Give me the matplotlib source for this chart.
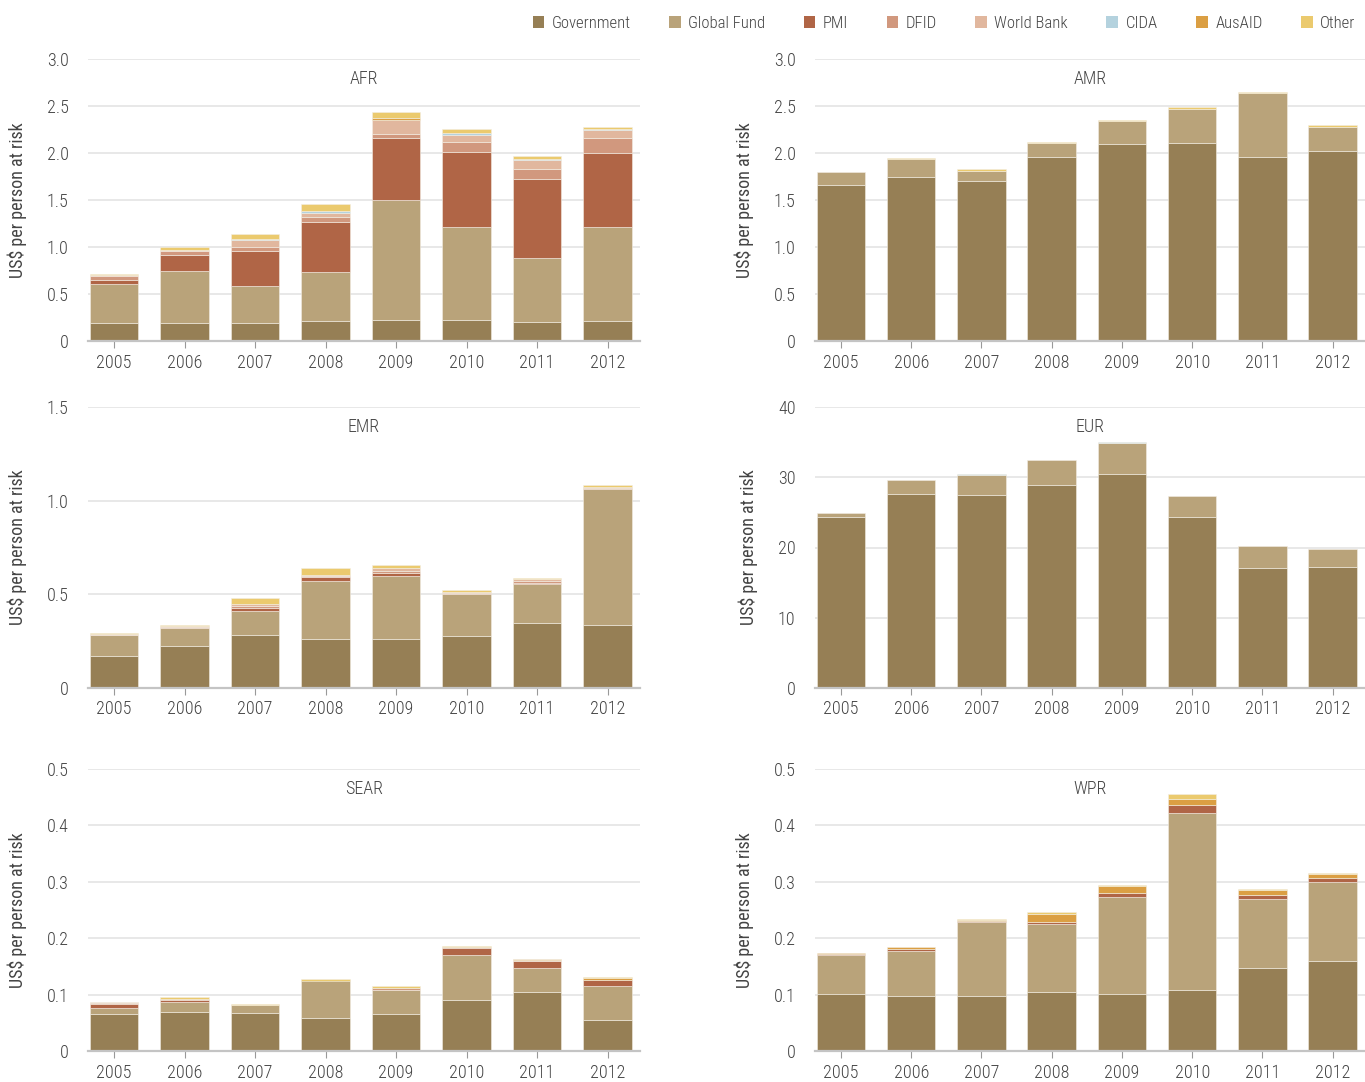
import numpy as np
import matplotlib
matplotlib.use("Agg")
import matplotlib.pyplot as plt
from matplotlib.patches import Patch

plt.rcParams['font.family'] = ['Roboto Condensed', 'Liberation Sans Narrow', 'DejaVu Sans']
plt.rcParams['font.weight'] = 'light'

years = ['2005', '2006', '2007', '2008', '2009', '2010', '2011', '2012']
sources = ['Government', 'Global Fund', 'PMI', 'DFID', 'World Bank', 'CIDA', 'AusAID', 'Other']
colors = ['#967F55', '#B9A37A', '#B06546', '#D1987E', '#E1B79E', '#B4D2DE', '#DB9F43', '#EBCA6E']

# rows follow `sources`, columns follow `years`
afr = [[0.19, 0.19, 0.19, 0.21, 0.22, 0.22, 0.20, 0.21],
       [0.42, 0.555, 0.395, 0.524, 1.28, 0.99, 0.68, 1.0],
       [0.04, 0.165, 0.37, 0.536, 0.66, 0.80, 0.84, 0.79],
       [0.04, 0.05, 0.05, 0.05, 0.04, 0.105, 0.115, 0.155],
       [0.01, 0.01, 0.065, 0.045, 0.15, 0.075, 0.09, 0.085],
       [0, 0, 0.013, 0.015, 0, 0.02, 0.015, 0.015],
       [0, 0, 0.005, 0, 0.02, 0, 0, 0.005],
       [0.01, 0.025, 0.045, 0.075, 0.07, 0.045, 0.025, 0.02]]

amr = [[1.656, 1.741, 1.702, 1.961, 2.099, 2.11, 1.961, 2.025],
       [0.142, 0.192, 0.11, 0.142, 0.238, 0.361, 0.674, 0.255],
       [0, 0, 0, 0, 0, 0, 0, 0],
       [0, 0, 0, 0, 0, 0, 0, 0],
       [0, 0, 0, 0, 0, 0, 0, 0],
       [0, 0, 0, 0, 0, 0, 0, 0],
       [0, 0, 0, 0, 0, 0, 0, 0],
       [0, 0.01, 0.014, 0.014, 0.014, 0.015, 0.01, 0.014]]

emr = [[0.172, 0.222, 0.285, 0.263, 0.263, 0.279, 0.345, 0.335],
       [0.109, 0.1, 0.126, 0.307, 0.335, 0.224, 0.212, 0.727],
       [0, 0, 0.018, 0.021, 0.014, 0, 0.005, 0],
       [0.003, 0.005, 0.009, 0.009, 0.011, 0.006, 0.01, 0.005],
       [0.002, 0.003, 0.009, 0.005, 0.016, 0.004, 0.008, 0.008],
       [0, 0, 0, 0, 0, 0, 0, 0],
       [0, 0, 0, 0, 0, 0, 0, 0],
       [0.006, 0.005, 0.032, 0.035, 0.018, 0.009, 0.007, 0.007]]

eur = [[24.4, 27.66, 27.47, 28.94, 30.5, 24.4, 17.1, 17.2],
       [0.5, 1.94, 2.83, 3.56, 4.4, 2.9, 3.1, 2.6],
       [0, 0, 0, 0, 0, 0, 0, 0],
       [0, 0, 0, 0, 0, 0, 0, 0],
       [0, 0, 0, 0, 0, 0, 0, 0],
       [0, 0, 0.2, 0, 0.16, 0, 0, 0],
       [0, 0, 0, 0, 0, 0, 0, 0],
       [0, 0, 0, 0, 0, 0, 0, 0]]

sear = [[0.066, 0.070, 0.067, 0.059, 0.066, 0.091, 0.105, 0.0555],
        [0.010, 0.017, 0.014, 0.066, 0.042, 0.080, 0.043, 0.059],
        [0.007, 0.003, 0, 0, 0, 0.011, 0.011, 0.012],
        [0.002, 0.002, 0, 0, 0.003, 0.003, 0, 0],
        [0.001, 0, 0, 0, 0, 0, 0.002, 0],
        [0, 0, 0, 0, 0, 0, 0, 0],
        [0, 0, 0, 0, 0, 0, 0.002, 0.003],
        [0.001, 0.003, 0.002, 0.002, 0.004, 0.002, 0.001, 0.001]]

wpr = [[0.101, 0.098, 0.098, 0.105, 0.101, 0.109, 0.148, 0.160],
       [0.070, 0.080, 0.131, 0.120, 0.172, 0.313, 0.122, 0.140],
       [0.001, 0.003, 0.002, 0.004, 0.008, 0.015, 0.006, 0.006],
       [0, 0, 0, 0, 0, 0, 0, 0],
       [0, 0, 0, 0, 0, 0, 0.001, 0],
       [0, 0, 0, 0, 0, 0, 0, 0],
       [0.002, 0.003, 0.002, 0.014, 0.011, 0.010, 0.009, 0.007],
       [0, 0, 0.001, 0.003, 0.002, 0.008, 0.002, 0.003]]

panels = [('AFR', afr, [0, 0.5, 1.0, 1.5, 2.0, 2.5, 3.0], ['0', '0.5', '1.0', '1.5', '2.0', '2.5', '3.0']),
          ('AMR', amr, [0, 0.5, 1.0, 1.5, 2.0, 2.5, 3.0], ['0', '0.5', '1.0', '1.5', '2.0', '2.5', '3.0']),
          ('EMR', emr, [0, 0.5, 1.0, 1.5], ['0', '0.5', '1.0', '1.5']),
          ('EUR', eur, [0, 10, 20, 30, 40], ['0', '10', '20', '30', '40']),
          ('SEAR', sear, [0, 0.1, 0.2, 0.3, 0.4, 0.5], ['0', '0.1', '0.2', '0.3', '0.4', '0.5']),
          ('WPR', wpr, [0, 0.1, 0.2, 0.3, 0.4, 0.5], ['0', '0.1', '0.2', '0.3', '0.4', '0.5'])]

W, H = 1365, 1082
fig = plt.figure(figsize=(W / 100, H / 100), dpi=100)

lefts = [88, 815]
widths = [552, 550]
rows = [(59, 341), (407, 688), (769, 1051)]
txt = '#444444'

for i, (name, data, ticks, labels) in enumerate(panels):
    col, row = i % 2, i // 2
    top, bot = rows[row]
    ax = fig.add_axes([lefts[col] / W, 1 - bot / H, widths[col] / W, (bot - top) / H])
    x = np.arange(len(years))
    base = np.zeros(len(years))
    for s in range(len(sources)):
        vals = np.array(data[s], dtype=float)
        keep = vals > 0
        if keep.any():
            ax.bar(x[keep], vals[keep], 0.69, bottom=base[keep], color=colors[s],
                   edgecolor='#f3eee4', linewidth=0.4, zorder=3)
        base += vals
    ax.set_xlim(-0.37, 7.46)
    ax.set_ylim(ticks[0], ticks[-1])
    ax.set_yticks(ticks)
    ax.set_yticklabels(labels)
    ax.set_xticks(x)
    ax.set_xticklabels(years)
    ax.grid(axis='y', color='#e4e4e4', linewidth=1.2, zorder=0)
    for sp in ['top', 'right', 'left']:
        ax.spines[sp].set_visible(False)
    ax.spines['bottom'].set_color('#c4c4c4')
    ax.spines['bottom'].set_linewidth(1.6)
    ax.spines['bottom'].set_zorder(4)
    ax.tick_params(axis='y', length=0, pad=14, labelsize=13, labelcolor=txt)
    ax.tick_params(axis='x', length=5, color='#999999', pad=4, labelsize=13, labelcolor=txt)
    ax.set_ylabel('US$ per person at risk', fontsize=13, color=txt, labelpad=14)
    ax.text(0.5, 0.928, name, transform=ax.transAxes, ha='center', va='center',
            fontsize=13, color=txt)

handles = [Patch(facecolor=c, edgecolor='none') for c in colors]
fig.legend(handles, sources, loc='upper right', bbox_to_anchor=(1.004, 0.999), ncol=8,
           frameon=False, fontsize=12, handlelength=0.7, handleheight=0.7,
           handletextpad=0.45, columnspacing=2.3, labelcolor=txt)

fig.savefig('out.png', dpi=100)
